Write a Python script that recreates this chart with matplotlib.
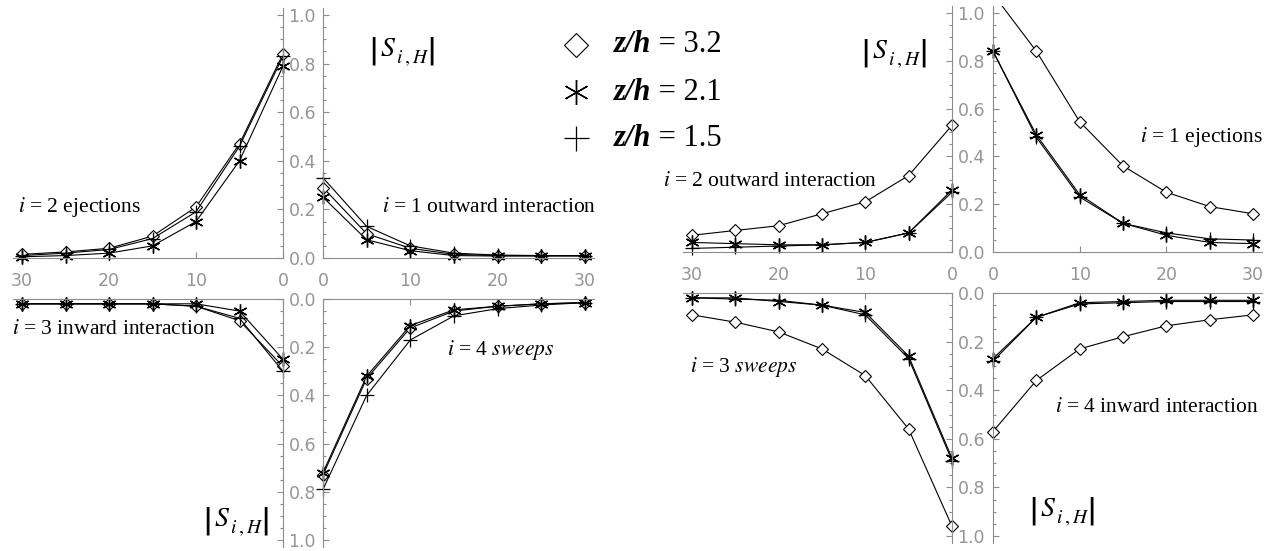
import numpy as np
import matplotlib
matplotlib.use('Agg')
import matplotlib.pyplot as plt
from matplotlib.lines import Line2D
from matplotlib.ticker import MultipleLocator, FormatStrFormatter

W, H = 1278, 551
plt.rcParams['mathtext.fontset'] = 'stix'

# separation (x) at which the quadrant fractions are evaluated
x_sep = [0, 5, 10, 15, 20, 25, 30]
heights = ['3.2', '2.1', '1.5']

# left figure: |S_i,H| for z/h = 3.2 (d), 2.1 (s), 1.5 (p)
left_q1_d = [0.29, 0.10, 0.04, 0.015, 0.01, 0.01, 0.01]
left_q1_s = [0.25, 0.075, 0.03, 0.01, 0.008, 0.008, 0.008]
left_q1_p = [0.33, 0.13, 0.05, 0.02, 0.012, 0.01, 0.01]

left_q2_d = [0.84, 0.47, 0.21, 0.09, 0.04, 0.025, 0.015]
left_q2_s = [0.79, 0.40, 0.15, 0.05, 0.02, 0.01, 0.005]
left_q2_p = [0.83, 0.46, 0.19, 0.08, 0.035, 0.02, 0.01]

left_q3_d = [0.28, 0.09, 0.03, 0.02, 0.02, 0.02, 0.02]
left_q3_s = [0.25, 0.05, 0.02, 0.02, 0.02, 0.02, 0.02]
left_q3_p = [0.30, 0.08, 0.03, 0.02, 0.02, 0.02, 0.02]

left_q4_d = [0.73, 0.33, 0.12, 0.05, 0.03, 0.02, 0.015]
left_q4_s = [0.72, 0.32, 0.11, 0.045, 0.03, 0.02, 0.015]
left_q4_p = [0.79, 0.40, 0.17, 0.07, 0.04, 0.025, 0.015]

# right figure
right_q1_d = [1.08, 0.84, 0.545, 0.36, 0.25, 0.19, 0.16]
right_q1_s = [0.84, 0.49, 0.24, 0.12, 0.07, 0.04, 0.035]
right_q1_p = [0.84, 0.48, 0.23, 0.12, 0.08, 0.055, 0.05]

right_q2_d = [0.53, 0.32, 0.21, 0.16, 0.11, 0.09, 0.07]
right_q2_s = [0.26, 0.08, 0.04, 0.03, 0.03, 0.035, 0.04]
right_q2_p = [0.25, 0.08, 0.04, 0.03, 0.025, 0.02, 0.015]

right_q3_d = [0.96, 0.56, 0.34, 0.23, 0.16, 0.12, 0.09]
right_q3_s = [0.68, 0.26, 0.08, 0.05, 0.035, 0.02, 0.02]
right_q3_p = [0.69, 0.27, 0.09, 0.05, 0.03, 0.025, 0.02]

right_q4_d = [0.57, 0.36, 0.23, 0.18, 0.135, 0.11, 0.09]
right_q4_s = [0.27, 0.10, 0.04, 0.035, 0.03, 0.03, 0.03]
right_q4_p = [0.28, 0.10, 0.045, 0.04, 0.035, 0.035, 0.035]

GRAY = '#8c8c8c'
DIAM = dict(marker='D', ms=6, mfc='white', mec='black', mew=0.8)
STAR = dict(marker=(6, 2, 0), ms=10, mec='black', mew=1.0)
PLUS = dict(marker='+', ms=10, mec='black', mew=0.9)

fig = plt.figure(figsize=(W / 100, H / 100), dpi=100)


def quadrant(x0, y0, xs, ys, side, upper, series):
    # x0, y0: pixel position of the origin; xs, ys: pixels per unit
    if side == 'right':
        left, right = x0 - 1 * xs, x0 + 31 * xs
    else:
        left, right = x0 - 31 * xs, x0 + 1 * xs
    if upper:
        top, bottom = y0 - 1.03 * ys, y0 + 0.03 * ys
    else:
        top, bottom = y0 - 0.03 * ys, y0 + 1.03 * ys
    ax = fig.add_axes([left / W, 1 - bottom / H, (right - left) / W, (bottom - top) / H])
    ax.patch.set_visible(False)
    ax.set_xlim((-1, 31) if side == 'right' else (31, -1))
    ax.set_ylim((-0.03, 1.03) if upper else (1.03, -0.03))

    hsp = 'bottom' if upper else 'top'
    vsp = 'left' if side == 'right' else 'right'
    for name, sp in ax.spines.items():
        if name in (hsp, vsp):
            sp.set_position(('data', 0))
            sp.set_color(GRAY)
            sp.set_linewidth(0.8)
        else:
            sp.set_visible(False)
    ax.spines[hsp].set_bounds(0, 31)
    ax.spines[vsp].set_bounds(0, 1.03)

    ax.xaxis.set_ticks_position(hsp)
    ax.yaxis.set_ticks_position(vsp)
    ax.set_xticks([0, 10, 20, 30])
    ax.yaxis.set_major_locator(MultipleLocator(0.2))
    ax.yaxis.set_minor_locator(MultipleLocator(0.05))
    ax.set_yticks(np.arange(0, 1.01, 0.2))
    ax.yaxis.set_major_formatter(FormatStrFormatter('%.1f'))
    ax.tick_params(which='both', direction='in', color=GRAY, width=0.8,
                   labelcolor='#959595', labelsize=12.5)
    ax.tick_params(which='major', length=4)
    ax.tick_params(which='minor', length=2)
    ax.tick_params(axis='x', pad=10, labelbottom=upper, labeltop=False)
    ax.tick_params(axis='y', pad=4, labelleft=False, labelright=(side == 'left'))

    for vals, style in zip(series, (DIAM, STAR, PLUS)):
        ax.plot(x_sep, vals, color='black', lw=0.8, **style)
    return ax


# left figure
quadrant(323, 258, 8.73, 243, 'right', True, (left_q1_d, left_q1_s, left_q1_p))
quadrant(283, 258, 8.7, 243, 'left', True, (left_q2_d, left_q2_s, left_q2_p))
quadrant(283, 299, 8.7, 241, 'left', False, (left_q3_d, left_q3_s, left_q3_p))
quadrant(323, 299, 8.73, 241, 'right', False, (left_q4_d, left_q4_s, left_q4_p))

# right figure
quadrant(993, 252, 8.67, 239, 'right', True, (right_q1_d, right_q1_s, right_q1_p))
quadrant(952, 252, 8.67, 239, 'left', True, (right_q2_d, right_q2_s, right_q2_p))
quadrant(952, 293, 8.67, 243, 'left', False, (right_q3_d, right_q3_s, right_q3_p))
quadrant(993, 293, 8.67, 243, 'right', False, (right_q4_d, right_q4_s, right_q4_p))


def ftext(px, py, s, **kw):
    return fig.text(px / W, 1 - py / H, s, **kw)


serif = dict(family='Liberation Serif', fontsize=15.5, va='center', ha='left')
ftext(18, 207, r'$i$ = 2 ejections', **serif)
ftext(382, 208, r'$i$ = 1 outward interaction', **serif)
ftext(12, 330, r'$i$ = 3 inward interaction', **serif)
ftext(447, 350, r'$i$ = 4 $\mathit{sweeps}$', **serif)
ftext(663, 182, r'$i$ = 2 outward interaction', **serif)
ftext(1140, 137, r'$i$ = 1 ejections', **serif)
ftext(690, 367, r'$i$ = 3 $\mathit{sweeps}$', **serif)
ftext(1055, 407, r'$i$ = 4 inward interaction', **serif)

for px, py in [(402, 52), (894, 54), (236, 522), (1062, 512)]:
    ftext(px, py, r'$\left|\,S^{\,}_{\,i\,,H}\right|$', fontsize=20, ha='center', va='center')

# legend
for (py, style, h) in zip((45, 92, 138), (DIAM, STAR, PLUS), heights):
    st = dict(style)
    st['ms'] = style['ms'] * 2 if style['marker'] == 'D' else style['ms'] * 1.8
    fig.add_artist(Line2D([576 / W], [1 - py / H], transform=fig.transFigure,
                          ls='none', **st))
    t = ftext(614, py, 'z/h', family='Liberation Serif', fontsize=22,
              fontweight='bold', fontstyle='italic', va='center', ha='left')
    fig.add_artist(plt.Annotation(' = ' + h, xy=(1, 0.5), xycoords=t,
                                  va='center', ha='left', family='Liberation Serif',
                                  fontsize=22))

fig.savefig('out.png', dpi=100)
